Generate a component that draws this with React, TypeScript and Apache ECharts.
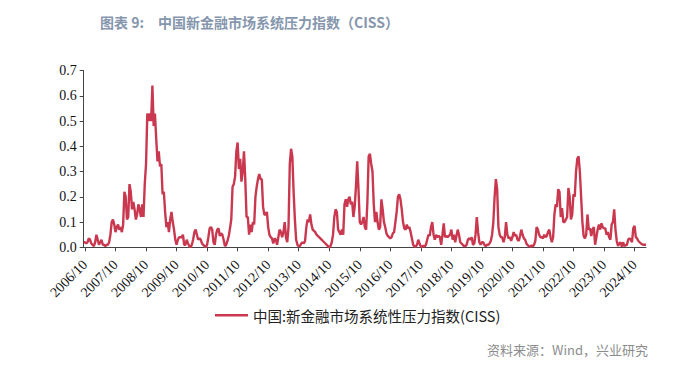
import React, { useEffect, useRef } from "react";
import * as echarts from "echarts";

// Tick labels shown on the x axis (one per October)
const tickLabels: string[] = [
  "2006/10", "2007/10", "2008/10", "2009/10", "2010/10", "2011/10", "2012/10",
  "2013/10", "2014/10", "2015/10", "2016/10", "2017/10", "2018/10", "2019/10",
  "2020/10", "2021/10", "2022/10", "2023/10", "2024/10",
];

// Semi-monthly dates from 2006/09/16 to 2025/02/16
const categories: string[] = [];
(() => {
  let y = 2006, m = 9, h = 1;
  while (true) {
    const mm = m < 10 ? "0" + m : "" + m;
    categories.push(`${y}/${mm}/${h === 0 ? "01" : "16"}`);
    if (y === 2025 && m === 2 && h === 1) break;
    if (h === 0) h = 1;
    else { h = 0; m += 1; if (m > 12) { m = 1; y += 1; } }
  }
})();

// CISS values (semi-monthly)
const ciss2006_2010: number[] = [
  0.02, 0.02, 0.015, 0.02, 0.035, 0.03, 0.015, 0.01, 0.005, 0.02,
  0.05, 0.03, 0.01, 0.02, 0.03, 0.01, 0.01, 0.005, 0.01, 0.01,
  0.02, 0.05, 0.1, 0.11, 0.09, 0.06, 0.08, 0.09, 0.07, 0.08,
  0.06, 0.09, 0.22, 0.2, 0.11, 0.12, 0.25, 0.22, 0.15, 0.18,
  0.15, 0.11, 0.13, 0.17, 0.15, 0.12, 0.17, 0.12, 0.25, 0.33,
  0.53, 0.5, 0.53, 0.5, 0.64, 0.48, 0.53, 0.43, 0.34, 0.38,
  0.32, 0.33, 0.21, 0.22, 0.14, 0.08, 0.1, 0.06, 0.11, 0.14,
  0.1, 0.07, 0.03, 0.01, 0.03, 0.04, 0.04, 0.04, 0.05, 0.01,
  0.01, 0.03, 0.015, 0.005, 0, 0.01, 0.03, 0.06, 0.07, 0.05,
];
const ciss2010_2014: number[] = [
  0.03, 0.035, 0.03, 0.015, 0.01, 0.005, 0, 0.01, 0.04, 0.075,
  0.08, 0.07, 0.02, 0.01, 0.05, 0.07, 0.075, 0.045, 0.055, 0.05,
  0.03, 0.005, 0.01, 0.025, 0.045, 0.075, 0.11, 0.24, 0.25, 0.28,
  0.38, 0.415, 0.31, 0.35, 0.26, 0.3, 0.38, 0.27, 0.12, 0.12,
  0.05, 0.09, 0.06, 0.1, 0.09, 0.2, 0.24, 0.27, 0.29, 0.27,
  0.27, 0.16, 0.13, 0.13, 0.14, 0.08, 0.05, 0.04, 0.035, 0.015,
  0.035, 0.03, 0.01, 0.04, 0.07, 0.06, 0.04, 0.06, 0.1, 0.04,
  0.02, 0.08, 0.33, 0.39, 0.36, 0.22, 0.11, 0.03, 0.01, 0.005,
  0.005, 0.015, 0.02, 0.015, 0.025, 0.08, 0.11, 0.1, 0.13, 0.09,
];
const ciss2014_2018: number[] = [
  0.07, 0.065, 0.06, 0.05, 0.045, 0.04, 0.035, 0.03, 0.025, 0.02,
  0.015, 0.01, 0.005, 0, 0.005, 0.02, 0.05, 0.12, 0.15, 0.14,
  0.07, 0.06, 0.05, 0.07, 0.05, 0.17, 0.19, 0.16, 0.19, 0.2,
  0.17, 0.18, 0.12, 0.16, 0.24, 0.34, 0.23, 0.1, 0.09, 0.1,
  0.12, 0.08, 0.07, 0.18, 0.36, 0.37, 0.33, 0.3, 0.17, 0.1,
  0.14, 0.1, 0.07, 0.08, 0.19, 0.15, 0.1, 0.08, 0.055, 0.045,
  0.04, 0.035, 0.04, 0.055, 0.06, 0.1, 0.14, 0.2, 0.21, 0.19,
  0.15, 0.1, 0.075, 0.07, 0.09, 0.075, 0.08, 0.06, 0.035, 0.01,
  0.003, 0.003, 0.01, 0.03, 0.015, 0.003, 0.002, 0.006, 0.003, 0.01,
];
const ciss2018_2022: number[] = [
  0.03, 0.05, 0.045, 0.08, 0.1, 0.05, 0.03, 0.05, 0.04, 0.045,
  0.04, 0.01, 0.05, 0.095, 0.04, 0.045, 0.04, 0.045, 0.05, 0.07,
  0.03, 0.05, 0.02, 0.045, 0.07, 0.05, 0.02, 0.015, 0.01, 0.005,
  0.005, 0.01, 0.03, 0.035, 0.03, 0.04, 0.01, 0.015, 0.05, 0.12,
  0.06, 0.02, 0.01, 0.02, 0.02, 0.01, 0.005, 0.01, 0.01, 0.015,
  0.025, 0.05, 0.1, 0.2, 0.27, 0.23, 0.08, 0.05, 0.04, 0.04,
  0.02, 0.04, 0.1, 0.05, 0.035, 0.04, 0.025, 0.04, 0.06, 0.045,
  0.05, 0.03, 0.025, 0.045, 0.07, 0.05, 0.035, 0.03, 0.015, 0.008,
  0.005, 0.003, 0.008, 0.003, 0.01, 0.025, 0.08, 0.07, 0.05, 0.04,
];
const ciss2022_2025: number[] = [
  0.04, 0.035, 0.05, 0.04, 0.045, 0.06, 0.07, 0.04, 0.02, 0.04,
  0.13, 0.17, 0.16, 0.23, 0.22, 0.12, 0.155, 0.1, 0.1, 0.11,
  0.12, 0.235, 0.2, 0.11, 0.13, 0.21, 0.2, 0.3, 0.35, 0.36,
  0.3, 0.2, 0.1, 0.045, 0.035, 0.05, 0.13, 0.07, 0.075, 0.045,
  0.07, 0.08, 0.01, 0.04, 0.07, 0.09, 0.07, 0.095, 0.08, 0.075,
  0.075, 0.05, 0.06, 0.04, 0.03, 0.09, 0.1, 0.15, 0.07, 0.025,
  0.005, 0.015, 0.02, 0.003, 0.02, 0.005, 0.008, 0.01, 0.03, 0.035,
  0.03, 0.02, 0.075, 0.085, 0.04, 0.035, 0.025, 0.02, 0.015, 0.012,
  0.01, 0.01, 0.01,
];

const cissValues: number[] = [
  ...ciss2006_2010, ...ciss2010_2014, ...ciss2014_2018, ...ciss2018_2022, ...ciss2022_2025,
];

const seriesName = "中国:新金融市场系统性压力指数(CISS)";
const titleText = "图表 9:\u3000中国新金融市场系统压力指数（CISS）";
const sourceText = "资料来源：Wind，兴业研究";

const isTick = (_idx: number, val: string) =>
  val.endsWith("/01") && tickLabels.includes(val.slice(0, 7));

export default function App() {
  const ref = useRef<HTMLDivElement>(null);
  useEffect(() => {
    if (!ref.current) return;
    const chart = echarts.init(ref.current, null, { renderer: "svg" });
    const serif = "'Liberation Serif', 'Times New Roman', serif";
    chart.setOption({
      animation: false,
      backgroundColor: "#ffffff",
      title: {
        text: titleText,
        left: 95,
        top: 10,
        textStyle: {
          fontFamily: "'Noto Sans CJK SC', 'Noto Sans', sans-serif",
          fontSize: 14,
          fontWeight: "bold",
          color: "#8596ad",
        },
      },
      grid: { left: 83.7, right: 45, top: 70.5, bottom: 120.7, containLabel: false },
      legend: {
        left: 210,
        top: 303,
        icon: "rect",
        itemWidth: 33,
        itemHeight: 2.5,
        itemGap: 5,
        textStyle: {
          fontFamily: "'Noto Sans CJK SC', sans-serif",
          fontSize: 14.5,
          color: "#222",
        },
        data: [seriesName],
      },
      xAxis: {
        type: "category",
        data: categories,
        boundaryGap: false,
        axisLine: { lineStyle: { color: "#444", width: 1 } },
        axisTick: { interval: isTick, length: 4, lineStyle: { color: "#444" } },
        axisLabel: {
          interval: isTick,
          rotate: 45,
          margin: 15,
          fontFamily: serif,
          fontSize: 14,
          color: "#111",
          formatter: (v: string) => v.slice(0, 7),
        },
        splitLine: { show: false },
      },
      yAxis: {
        type: "value",
        min: 0,
        max: 0.7,
        interval: 0.1,
        axisLine: { show: true, lineStyle: { color: "#444", width: 1 } },
        axisTick: { show: true, length: 4, lineStyle: { color: "#444" } },
        axisLabel: {
          margin: 7,
          fontFamily: serif,
          fontSize: 14,
          color: "#111",
          formatter: (v: number) => v.toFixed(1),
        },
        splitLine: { show: false },
      },
      graphic: [
        {
          type: "text",
          right: 43,
          top: 343,
          style: {
            text: sourceText,
            fontFamily: "'Noto Sans CJK SC', sans-serif",
            fontSize: 13,
            fill: "#8c8c8c",
          },
        },
      ],
      series: [
        {
          name: seriesName,
          type: "line",
          data: cissValues,
          symbol: "none",
          lineStyle: { color: "#c9384f", width: 2.4 },
          itemStyle: { color: "#c9384f" },
        },
      ],
    });
    return () => chart.dispose();
  }, []);
  return (
    <div
      ref={ref}
      style={{ position: "fixed", left: 0, top: 0, width: 691, height: 368, background: "#fff" }}
    />
  );
}
